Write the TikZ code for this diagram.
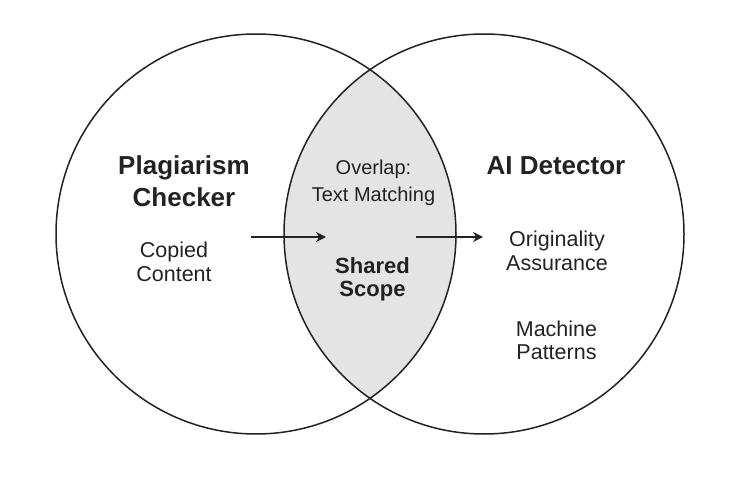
\documentclass[tikz,border=0pt]{standalone}
\usepackage{fontspec}
\setmainfont{Liberation Sans}
\usetikzlibrary{arrows.meta}
\definecolor{ink}{HTML}{222222}
\definecolor{lensgray}{HTML}{E4E4E4}
\tikzstyle{set}=[draw=ink,line width=1.5pt]
\tikzstyle{title}=[text=ink,align=center,inner sep=0pt,font=\fontsize{26}{32}\selectfont\bfseries]
\tikzstyle{item}=[text=ink,align=center,inner sep=0pt,font=\fontsize{21.5}{23.5}\selectfont]
\tikzstyle{edge}=[draw=ink,line width=1.5pt,-{Stealth[length=10pt,width=10pt]}]

\begin{document}
\begin{tikzpicture}[x=1pt,y=-1pt]
        \useasboundingbox (0,0) rectangle (750,500);
        \coordinate (cl) at (256,234);
        \coordinate (cr) at (484,234);
        % shared region
        \begin{scope}
          \clip (cl) circle (200);
          \fill[lensgray] (cr) circle (200);
        \end{scope}
        \draw[set] (cl) circle (200);
        \draw[set] (cr) circle (200);
        \node[title] (plag) at (184,181.5) {Plagiarism\\Checker};
        \node[title] (ai) at (556,165.5) {AI Detector};
        \node[item,font=\fontsize{20}{27}\selectfont] (over) at (373.5,183) {Overlap:\\Text Matching};
        \node[title,font=\fontsize{22}{23}\selectfont\bfseries] (shared) at (372.5,279.5) {Shared\\Scope};
        \node[item] (copied) at (174,262) {Copied\\Content};
        \node[item] (orig) at (557,251) {Originality\\Assurance};
        \node[item] (mach) at (556.5,340.5) {Machine\\Patterns};
        \coordinate (a1) at (251,237);
        \coordinate (b1) at (326,237);
        \coordinate (a2) at (416,237);
        \coordinate (b2) at (483,237);
        \draw[edge] (a1) to (b1);
        \draw[edge] (a2) to (b2);
      \end{tikzpicture}
\end{document}
